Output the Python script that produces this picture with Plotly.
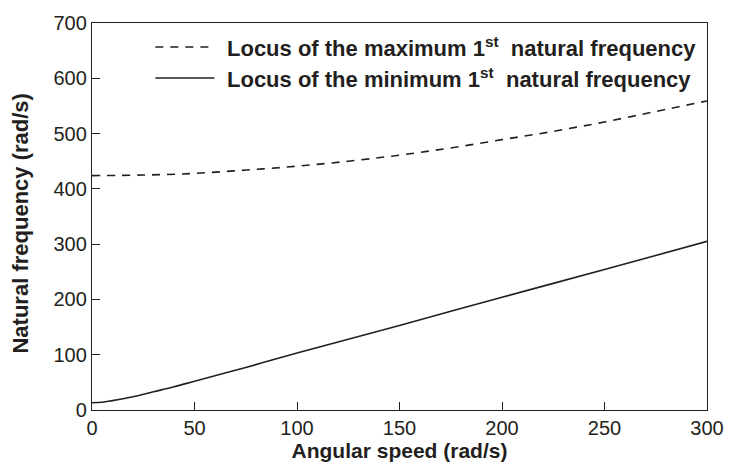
import plotly.graph_objects as go

# Angular speed (rad/s)
speed_max = [0, 25, 50, 75, 100, 125, 150, 175, 200, 225, 250, 275, 300]
freq_max = [424, 425, 428, 434, 441, 450, 461, 474, 489, 504, 521, 540, 559]

speed_min = [0, 5, 10, 20, 30, 40, 50, 75, 100, 150, 200, 250, 300]
freq_min = [13, 14, 17, 24, 33, 42, 52, 77, 103, 153, 204, 254, 305]

x_ticks = [0, 50, 100, 150, 200, 250, 300]
y_ticks = [0, 100, 200, 300, 400, 500, 600, 700]

legend_max = "Locus of the maximum 1<sup>st</sup>  natural frequency"
legend_min = "Locus of the minimum 1<sup>st</sup>  natural frequency"

FONT = "Liberation Sans, Arial, sans-serif"
INK = "#231f20"

fig = go.Figure()
fig.add_trace(go.Scatter(x=speed_max, y=freq_max, mode="lines", line_shape="spline",
                         line=dict(color=INK, width=1.6, dash="8px,7px"),
                         name=legend_max, showlegend=False))
fig.add_trace(go.Scatter(x=speed_min, y=freq_min, mode="lines", line_shape="spline",
                         line=dict(color=INK, width=1.6),
                         name=legend_min, showlegend=False))

# manual legend
for yy, dash, txt in [(0.938, "8px,7px", legend_max), (0.858, "solid", legend_min)]:
    fig.add_shape(type="line", xref="paper", yref="paper", x0=0.103, x1=0.199, y0=yy, y1=yy,
                  line=dict(color=INK, width=1.6, dash=dash))
    fig.add_annotation(xref="paper", yref="paper", x=0.217, y=yy, xanchor="left", yanchor="middle",
                       text="<b>" + txt + "</b>", showarrow=False,
                       font=dict(family=FONT, size=22, color=INK))

# y-axis title (placed slightly below the axis centre, as in the reference)
fig.add_annotation(xref="paper", yref="paper", x=-0.116, y=0.481, xanchor="center", yanchor="middle",
                   textangle=-90, text="<b>Natural frequency (rad/s)</b>", showarrow=False,
                   font=dict(family=FONT, size=22, color=INK))

axis_common = dict(showline=True, linecolor=INK, linewidth=1.4, mirror=True,
                   ticks="inside", ticklen=8, tickwidth=1.3, tickcolor=INK,
                   showgrid=False, zeroline=False,
                   tickfont=dict(family=FONT, size=20, color=INK))

fig.update_xaxes(range=[0, 300], tickvals=x_ticks,
                 title=dict(text="<b>Angular speed (rad/s)</b>", standoff=2,
                            font=dict(family=FONT, size=21, color=INK)),
                 **axis_common)
fig.update_yaxes(range=[0, 700], tickvals=y_ticks, **axis_common)

fig.update_layout(width=736, height=468, margin=dict(l=92, r=21, t=23, b=57),
                  plot_bgcolor="white", paper_bgcolor="white",
                  font=dict(family=FONT, color=INK))

fig.write_html("out.html", config={"displayModeBar": False},
               post_script="document.body.style.margin='0';")
